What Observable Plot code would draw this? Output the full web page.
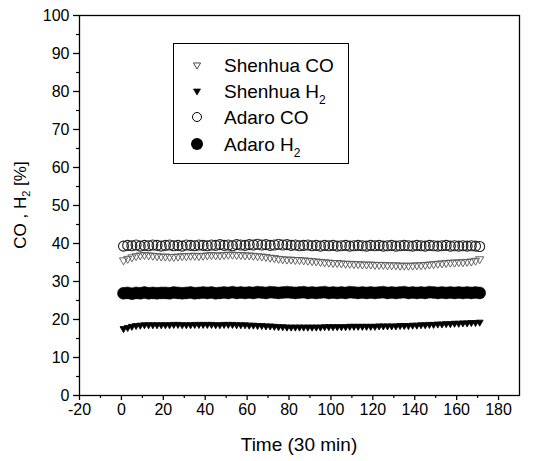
<!DOCTYPE html>
<html><head><meta charset="utf-8">
<script src="https://cdn.jsdelivr.net/npm/d3@7"></script>
<script src="https://cdn.jsdelivr.net/npm/@observablehq/plot@0.6"></script>
<style>
body{margin:0;background:#fff;}
#chart{width:536px;height:461px;}
</style>
</head><body>
<div id="chart"></div>
<script>
const time = [1,3,5,7,9,11,13,15,17,19,
  21,23,25,27,29,31,33,35,37,39,
  41,43,45,47,49,51,53,55,57,59,
  61,63,65,67,69,71,73,75,77,79,
  81,83,85,87,89,91,93,95,97,99,
  101,103,105,107,109,111,113,115,117,119,
  121,123,125,127,129,131,133,135,137,139,
  141,143,145,147,149,151,153,155,157,159,
  161,163,165,167,169,171];

const shenhuaCO = [35.6,36.0,36.4,36.7,36.9,37.0,36.9,36.8,36.7,36.6,
  36.6,36.5,36.5,36.6,36.7,36.7,36.8,36.8,36.7,36.8,
  36.9,37.0,36.9,36.9,37.0,37.1,37.1,37.0,37.0,36.9,
  36.9,36.8,36.7,36.6,36.5,36.3,36.2,36.0,35.9,35.8,
  35.8,35.7,35.7,35.6,35.5,35.4,35.3,35.2,35.1,35.0,
  34.9,34.9,34.8,34.7,34.7,34.6,34.6,34.5,34.5,34.5,
  34.4,34.4,34.4,34.3,34.3,34.3,34.2,34.2,34.2,34.2,
  34.3,34.3,34.4,34.5,34.6,34.7,34.8,34.9,35.0,35.0,
  35.1,35.1,35.2,35.3,35.5,35.9];

const shenhuaH2 = [17.6,17.9,18.2,18.4,18.5,18.6,18.6,18.6,18.6,18.6,
  18.6,18.6,18.7,18.7,18.6,18.6,18.6,18.7,18.7,18.7,
  18.7,18.7,18.6,18.6,18.7,18.7,18.7,18.6,18.6,18.6,
  18.5,18.5,18.4,18.4,18.3,18.3,18.2,18.1,18.1,18.0,
  18.0,18.0,18.0,18.0,18.0,18.0,18.0,18.0,18.1,18.1,
  18.1,18.1,18.1,18.1,18.2,18.2,18.2,18.2,18.2,18.2,
  18.2,18.3,18.3,18.3,18.3,18.3,18.4,18.4,18.4,18.5,
  18.5,18.6,18.6,18.7,18.7,18.8,18.8,18.9,18.9,19.0,
  19.0,19.1,19.1,19.2,19.2,19.3];

const adaroCO = [39.3,39.5,39.4,39.6,39.3,39.5,39.4,39.6,39.5,39.3,
  39.5,39.6,39.4,39.5,39.3,39.6,39.5,39.4,39.6,39.5,
  39.4,39.6,39.5,39.7,39.5,39.6,39.4,39.7,39.6,39.5,
  39.7,39.6,39.8,39.6,39.7,39.5,39.6,39.8,39.6,39.7,
  39.5,39.6,39.4,39.5,39.6,39.4,39.5,39.3,39.5,39.4,
  39.5,39.3,39.4,39.5,39.3,39.4,39.5,39.4,39.3,39.5,
  39.4,39.5,39.3,39.4,39.5,39.3,39.4,39.5,39.4,39.3,
  39.5,39.4,39.3,39.5,39.4,39.3,39.4,39.5,39.3,39.4,
  39.3,39.4,39.3,39.4,39.3,39.2];

const adaroH2 = [26.9,27.0,26.8,27.0,26.9,27.1,26.9,27.0,26.9,27.0,
  27.0,26.9,27.1,27.0,26.9,27.0,27.1,26.9,27.0,27.1,
  27.0,27.1,26.9,27.0,27.1,27.0,27.2,27.0,27.1,27.0,
  27.1,27.0,27.2,27.1,27.0,27.2,27.1,27.0,27.1,27.2,
  27.1,27.0,27.1,27.2,27.0,27.1,27.0,27.1,27.2,27.0,
  27.1,27.0,27.1,27.0,27.2,27.1,27.0,27.1,27.0,27.1,
  27.0,27.1,27.2,27.0,27.1,27.0,27.1,27.2,27.0,27.1,
  27.0,27.1,27.0,27.2,27.1,27.0,27.1,27.0,27.1,27.0,
  27.1,27.0,27.1,27.0,27.1,27.0];

const xTicks = [-20,0,20,40,60,80,100,120,140,160,180];
const xMinor = [-10,10,30,50,70,90,110,130,150,170];
const yTicks = [0,10,20,30,40,50,60,70,80,90,100];
const yMinor = [5,15,25,35,45,55,65,75,85,95];

const seriesNames = ["Shenhua CO","Shenhua H","Adaro CO","Adaro H"];
const seriesSub = ["","2","","2"];

const rows = (vals) => time.map((t,i) => ({t, v: vals[i]}));

const font = '"Liberation Sans", Arial, Helvetica, sans-serif';

const chart = Plot.plot({
  width: 536, height: 461,
  marginLeft: 79, marginRight: 17, marginTop: 15, marginBottom: 66,
  style: {fontFamily: font, fontSize: "16px", color: "#000", background: "#fff", overflow: "visible"},
  x: {domain: [-20, 190]},
  y: {domain: [0, 100]},
  marks: [
    Plot.frame({stroke: "#000", strokeWidth: 1.3}),
    Plot.axisX({ticks: xTicks, tickSize: 5, tickPadding: 3, tickFormat: d => String(d), label: null, fontSize: 16, strokeWidth: 1.3}),
    Plot.axisX({ticks: xMinor, tickSize: 3, tickFormat: () => "", label: null, strokeWidth: 1.2}),
    Plot.axisY({ticks: yTicks, tickSize: 6, tickPadding: 4, tickFormat: d => String(d), label: null, fontSize: 16, strokeWidth: 1.3}),
    Plot.axisY({ticks: yMinor, tickSize: 3, tickFormat: () => "", label: null, strokeWidth: 1.2}),
    Plot.dot(rows(adaroH2), {x: "t", y: "v", r: 6, fill: "#000", stroke: "#000", strokeWidth: 0.5}),
    Plot.dot(rows(shenhuaH2), {x: "t", y: "v", symbol: "triangle", rotate: 180, r: 2.6, fill: "#000", stroke: "#000", strokeWidth: 0.8}),
    Plot.dot(rows(shenhuaCO), {x: "t", y: "v", symbol: "triangle", rotate: 180, r: 3, fill: "none", stroke: "#555", strokeWidth: 0.9}),
    Plot.dot(rows(adaroCO), {x: "t", y: "v", r: 5, fill: "none", stroke: "#222", strokeWidth: 1.1})
  ]
});
document.getElementById("chart").appendChild(chart);

const svg = d3.select(chart);

// Axis titles
const yl = svg.append("text")
  .attr("transform", "translate(26,205) rotate(-90)")
  .attr("text-anchor", "middle")
  .attr("font-family", font).attr("font-size", 17).attr("fill", "#000");
yl.append("tspan").text("CO , H");
yl.append("tspan").attr("font-size", 11).attr("dy", 4).text("2");
yl.append("tspan").attr("dy", -4).text(" [%]");

svg.append("text")
  .attr("x", 299).attr("y", 451)
  .attr("text-anchor", "middle")
  .attr("font-family", font).attr("font-size", 19).attr("fill", "#000")
  .text("Time (30 min)");

// Legend
const lg = svg.append("g").attr("text-anchor", "start");
lg.append("rect").attr("x", 173.5).attr("y", 43.5).attr("width", 175).attr("height", 120)
  .attr("fill", "#fff").attr("stroke", "#000").attr("stroke-width", 1);
const rowY = [65, 91, 117, 144];
const symTri = d3.symbol(d3.symbolTriangle, 22);
lg.append("path").attr("d", symTri()).attr("transform", `translate(197,${rowY[0]}) rotate(180)`)
  .attr("fill", "none").attr("stroke", "#333").attr("stroke-width", 0.9);
lg.append("path").attr("d", symTri()).attr("transform", `translate(197,${rowY[1]}) rotate(180)`)
  .attr("fill", "#000").attr("stroke", "#000").attr("stroke-width", 0.6);
lg.append("circle").attr("cx", 197).attr("cy", rowY[2]).attr("r", 4.5)
  .attr("fill", "none").attr("stroke", "#000").attr("stroke-width", 1);
lg.append("circle").attr("cx", 197).attr("cy", rowY[3]).attr("r", 6)
  .attr("fill", "#000");
seriesNames.forEach((name, i) => {
  const t = lg.append("text").attr("x", 224).attr("y", rowY[i] + 7)
    .attr("text-anchor", "start")
    .attr("font-family", font).attr("font-size", 19).attr("fill", "#000");
  t.append("tspan").text(name);
  if (seriesSub[i]) t.append("tspan").attr("font-size", 12).attr("dy", 6).text(seriesSub[i]);
});
</script>
</body></html>
